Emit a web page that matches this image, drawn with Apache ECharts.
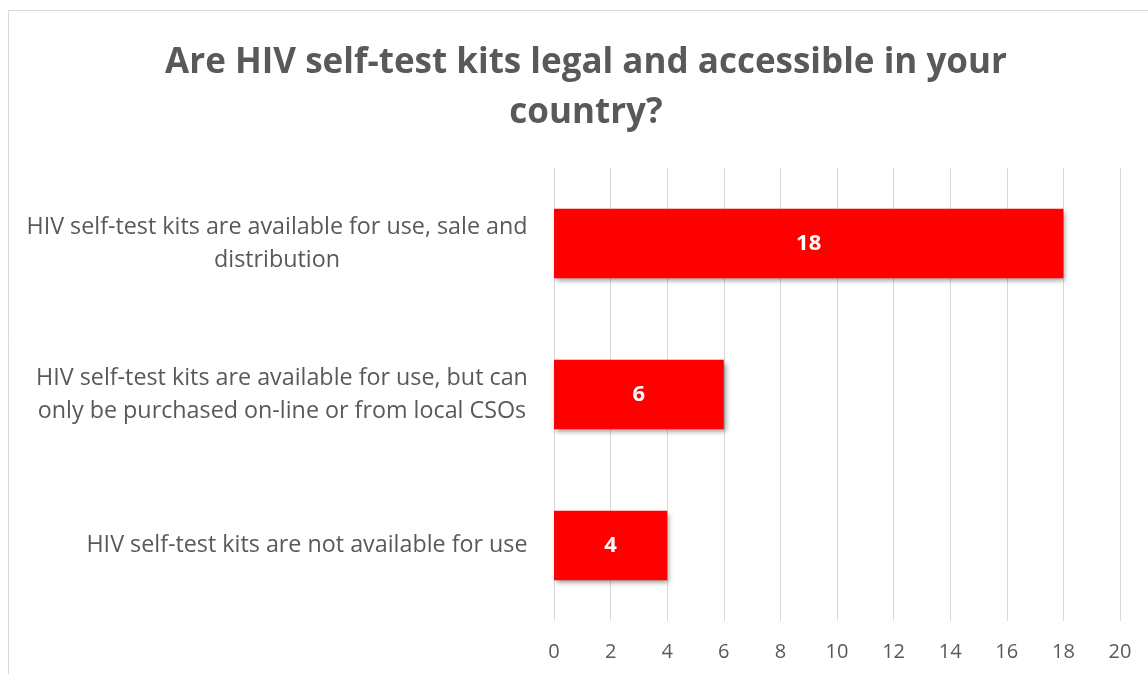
<!DOCTYPE html>
<html>
<head>
<meta charset="utf-8">
<script src="https://cdn.jsdelivr.net/npm/echarts@6/dist/echarts.min.js"></script>
<style>
html,body{margin:0;padding:0;background:#fff;}
#chart{width:1148px;height:674px;}
</style>
</head>
<body>
<div id="chart"></div>
<script>
const titleText = 'Are HIV self-test kits legal and accessible in your\ncountry?';
const categories = [
  'HIV self-test kits are available for use, sale and\ndistribution',
  'HIV self-test kits are available for use, but can\nonly be purchased on-line or from local CSOs',
  'HIV self-test kits are not available for use'
];
const values = [18, 6, 4];
const xTicks = [0, 2, 4, 6, 8, 10, 12, 14, 16, 18, 20];

const FONT = 'Open Sans';
const LABEL_SIZE = 23.3;
const ctx = document.createElement('canvas').getContext('2d');
ctx.font = LABEL_SIZE + 'px "' + FONT + '"';
const rich = {};
categories.forEach((c, i) => {
  const w = Math.max(...c.split('\n').map(l => ctx.measureText(l).width));
  rich['c' + i] = { width: Math.ceil(w), align: 'center', fontFamily: FONT, fontSize: LABEL_SIZE, color: '#595959', lineHeight: 33 };
});

const chart = echarts.init(document.getElementById('chart'));
chart.setOption({
  backgroundColor: '#fff',
  animation: false,
  title: {
    text: titleText,
    left: 586,
    top: 38,
    padding: 0,
    textAlign: 'center',
    textStyle: { fontFamily: FONT, fontWeight: 'bold', fontSize: 35, color: '#595959', lineHeight: 50 }
  },
  graphic: [{
    type: 'rect', silent: true,
    shape: { x: 8.5, y: 10.5, width: 1300, height: 800 },
    style: { fill: 'none', stroke: '#d9d9d9', lineWidth: 1 }
  }],
  grid: { left: 554, right: 28, top: 168, bottom: 53, containLabel: false },
  xAxis: {
    type: 'value', min: xTicks[0], max: xTicks[xTicks.length - 1], interval: 2,
    axisLine: { show: false }, axisTick: { show: false },
    splitLine: { show: true, lineStyle: { color: '#d9d9d9', width: 1 } },
    axisLabel: { margin: 21, fontFamily: FONT, fontSize: 20, color: '#595959' }
  },
  yAxis: {
    type: 'category', data: categories, inverse: true,
    axisLine: { show: false }, axisTick: { show: false },
    axisLabel: {
      margin: 26, align: 'right',
      formatter: function (value) {
        const i = categories.indexOf(value);
        return value.split('\n').map(l => '{c' + i + '|' + l + '}').join('\n');
      },
      rich: rich
    }
  },
  series: [{
    type: 'bar', data: values, barCategoryGap: '54%',
    itemStyle: { color: '#ff0000', shadowColor: 'rgba(0,0,0,0.4)', shadowBlur: 5, shadowOffsetX: 2, shadowOffsetY: 3 },
    label: { show: true, position: 'inside', color: '#fff', fontFamily: FONT, fontWeight: 'bold', fontSize: 22 }
  }]
});
</script>
</body>
</html>
